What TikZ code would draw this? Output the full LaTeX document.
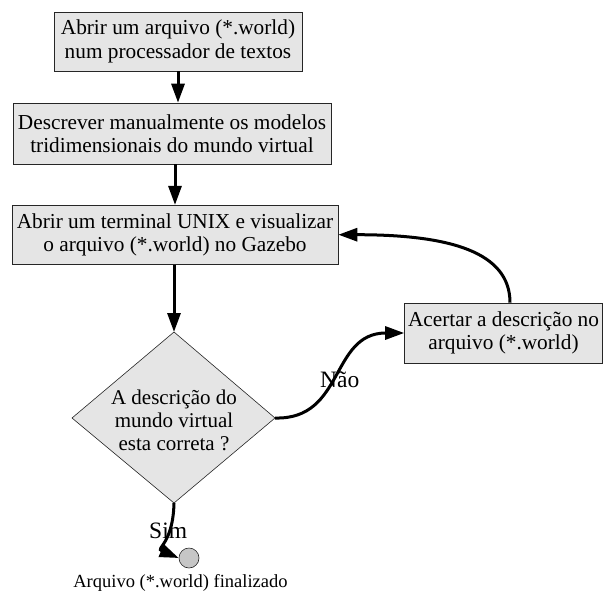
\documentclass[tikz,border=0pt]{standalone}
\usepackage{fontspec}
\setmainfont{Liberation Serif}
\usetikzlibrary{arrows.meta}
\begin{document}
\begin{tikzpicture}[x=1pt,y=-1pt,
  box/.style={draw=black!85, fill=gray!20, line width=0.6pt, inner sep=0pt, align=center,
    font=\fontsize{21.3}{23.5}\selectfont},
  flow/.style={line width=3pt, -{Triangle[length=19pt,width=13pt]}},
  lbl/.style={font=\fontsize{23.5}{26}\selectfont, inner sep=0pt}
]
\useasboundingbox (0,0) rectangle (604,594);

\node[box, minimum width=248pt, minimum height=59pt] (b1) at (178,41.5)
  {Abrir um arquivo (*.world)\\num processador de textos};
\node[box, minimum width=318pt, minimum height=61pt] (b2) at (172,133.5)
  {Descrever manualmente os modelos\\tridimensionais do mundo virtual};
\node[box, minimum width=326pt, minimum height=59pt] (b3) at (175,234.7)
  {Abrir um terminal UNIX e visualizar\\o arquivo (*.world) no Gazebo};
\node[box, minimum width=198pt, minimum height=60pt] (b4) at (503.5,333)
  {Acertar a descrição no\\arquivo (*.world)};

\coordinate (dt) at (174,332);
\coordinate (dr) at (275,418);
\coordinate (db) at (174,503);
\coordinate (dl) at (72,418);
\draw[draw=black!85, fill=gray!20, line width=0.6pt] (dt) -- (dr) -- (db) -- (dl) -- cycle;
\node[align=center, inner sep=0pt, font=\fontsize{21}{23}\selectfont] (dq) at (174,420)
  {A descrição do\\mundo virtual\\esta correta ?};

\node[circle, draw=black!85, fill=gray!45, line width=0.6pt, minimum size=20pt, inner sep=0pt] (fim) at (189,558) {};
\node[inner sep=0pt, anchor=base, font=\fontsize{18.5}{21}\selectfont] (fimtxt) at (180.5,587)
  {Arquivo (*.world) finalizado};

\draw[flow] (b1.south) -- (b1.south |- b2.north);
\draw[flow] (b2.south -| 175,0) -- (b3.north -| 175,0);
\draw[flow] (b3.south -| dt) -- (dt);
\draw[flow] (dr) .. controls (345,420) and (330,333) .. (b4.west);
\draw[flow] (b4.north -| 510,0) .. controls (510,252) and (450,234.7) .. (b3.east);
\draw[flow] (db) .. controls (173,545) and (155,548) .. (fim.west);

\node[lbl, anchor=base west] (nao) at (320,387) {Não};
\node[lbl, anchor=base west] (sim) at (149,538) {Sim};
\end{tikzpicture}
\end{document}
